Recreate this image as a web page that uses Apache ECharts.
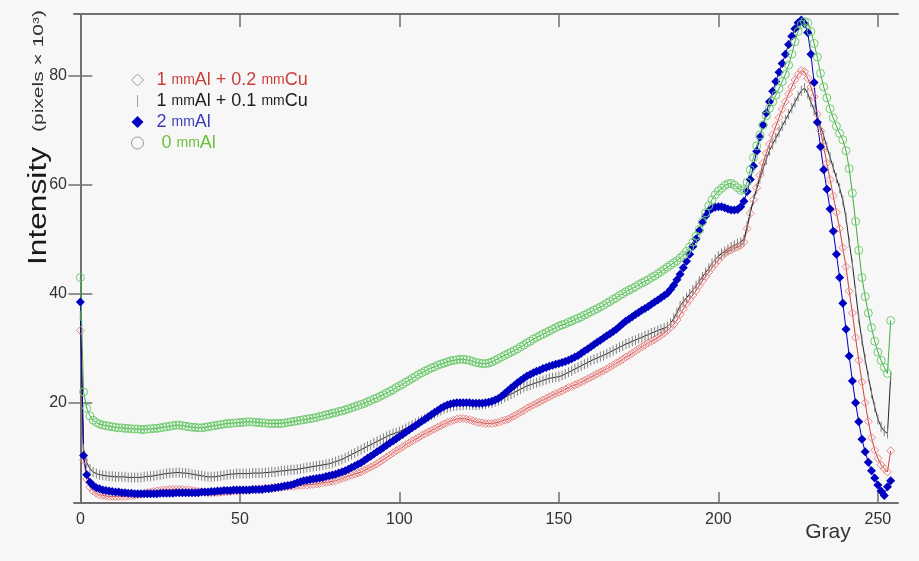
<!DOCTYPE html>
<html>
<head>
<meta charset="utf-8">
<title>Intensity vs Gray</title>
<script src="https://cdn.jsdelivr.net/npm/echarts@6/dist/echarts.min.js"></script>
<style>
  html, body { margin: 0; padding: 0; background: #f7f7f7; }
  #chart { width: 919px; height: 561px; }
</style>
</head>
<body>
<div id="chart"></div>
<script>
// gray levels 0..254
var gray = [];
for (var i = 0; i <= 254; i++) gray.push(i);

var xTicks = [0, 50, 100, 150, 200, 250];
var yTicks = [20, 40, 60, 80];

var names = ['1 mmAl + 0.2 mmCu', '1 mmAl + 0.1 mmCu', '2 mmAl', '0 mmAl'];

// 1 mmAl + 0.2 mmCu (red, hollow diamonds)
var cu02 = [
  33.3, 9.5, 6.0, 4.5, 3.8, 3.4, 3.1, 3.0, 2.9, 2.8,
  2.8, 2.8, 2.8, 2.8, 2.8, 2.9, 2.9, 3.0, 3.1, 3.2,
  3.3, 3.5, 3.6, 3.7, 3.8, 3.9, 4.0, 4.0, 4.1, 4.1,
  4.1, 4.1, 4.1, 4.0, 4.0, 3.9, 3.8, 3.7, 3.6, 3.6,
  3.5, 3.5, 3.5, 3.5, 3.6, 3.6, 3.7, 3.7, 3.8, 3.8,
  3.9, 3.9, 4.0, 4.0, 4.1, 4.1, 4.2, 4.2, 4.3, 4.3,
  4.4, 4.4, 4.5, 4.5, 4.6, 4.6, 4.7, 4.7, 4.8, 4.8,
  4.9, 4.9, 5.0, 5.0, 5.1, 5.2, 5.3, 5.4, 5.5, 5.6,
  5.7, 5.9, 6.1, 6.3, 6.5, 6.7, 6.9, 7.1, 7.3, 7.6,
  7.9, 8.2, 8.5, 8.8, 9.2, 9.6, 10.0, 10.4, 10.8, 11.2,
  11.5, 11.9, 12.3, 12.6, 13.0, 13.3, 13.6, 14.0, 14.3, 14.6,
  14.9, 15.2, 15.5, 15.8, 16.1, 16.4, 16.6, 16.8, 17.0, 17.1,
  17.1, 17.0, 16.9, 16.7, 16.5, 16.4, 16.3, 16.2, 16.2, 16.2,
  16.3, 16.4, 16.6, 16.8, 17.0, 17.3, 17.6, 17.9, 18.3, 18.6,
  19.0, 19.3, 19.6, 19.9, 20.2, 20.5, 20.8, 21.1, 21.4, 21.7,
  21.9, 22.2, 22.5, 22.8, 23.0, 23.3, 23.5, 23.8, 24.1, 24.4,
  24.7, 25.0, 25.3, 25.6, 25.9, 26.2, 26.6, 26.9, 27.3, 27.6,
  28.0, 28.4, 28.7, 29.1, 29.5, 29.9, 30.3, 30.6, 31.0, 31.3,
  31.6, 32.0, 32.4, 32.8, 33.3, 33.8, 34.4, 35.2, 36.2, 37.2,
  38.2, 39.0, 39.8, 40.6, 41.5, 42.4, 43.2, 44.0, 44.8, 45.5,
  46.2, 46.9, 47.4, 47.8, 48.1, 48.4, 48.6, 48.9, 49.5, 52.0,
  54.8, 57.3, 59.5, 61.8, 64.0, 65.8, 67.5, 69.2, 70.8, 72.4,
  73.9, 75.3, 76.7, 78.0, 79.3, 80.3, 81.0, 80.8, 79.6, 78.0,
  76.2, 73.0, 70.0, 67.0, 64.0, 61.0, 58.0, 55.0, 52.0, 48.5,
  45.0, 40.5, 36.5, 32.0, 27.8, 23.8, 20.0, 16.6, 13.6, 11.3,
  9.8, 8.6, 7.9, 7.3, 11.2
];

// 1 mmAl + 0.1 mmCu (black line, vertical tick marks)
var cu01 = [
  36.0, 11.5, 9.0, 7.9, 7.3, 7.0, 6.8, 6.7, 6.6, 6.5,
  6.5, 6.4, 6.4, 6.4, 6.4, 6.3, 6.3, 6.3, 6.3, 6.3,
  6.4, 6.5, 6.5, 6.6, 6.7, 6.8, 6.9, 7.0, 7.1, 7.1,
  7.2, 7.2, 7.1, 7.1, 7.0, 6.9, 6.8, 6.7, 6.6, 6.5,
  6.4, 6.4, 6.4, 6.5, 6.6, 6.7, 6.8, 6.9, 6.9, 7.0,
  7.0, 7.0, 7.0, 7.0, 7.1, 7.1, 7.1, 7.1, 7.2, 7.2,
  7.3, 7.3, 7.4, 7.5, 7.5, 7.6, 7.7, 7.7, 7.8, 7.9,
  8.0, 8.1, 8.2, 8.3, 8.4, 8.5, 8.6, 8.7, 8.8, 9.0,
  9.2, 9.4, 9.6, 9.9, 10.2, 10.5, 10.8, 11.1, 11.4, 11.7,
  12.0, 12.3, 12.6, 12.9, 13.2, 13.5, 13.8, 14.1, 14.3, 14.5,
  14.7, 15.0, 15.3, 15.6, 15.9, 16.2, 16.5, 16.8, 17.1, 17.4,
  17.7, 18.0, 18.3, 18.6, 18.9, 19.1, 19.3, 19.4, 19.5, 19.6,
  19.6, 19.6, 19.6, 19.6, 19.6, 19.6, 19.7, 19.8, 19.9, 20.0,
  20.2, 20.4, 20.7, 21.0, 21.3, 21.6, 21.9, 22.2, 22.5, 22.8,
  23.1, 23.3, 23.5, 23.7, 23.9, 24.1, 24.3, 24.5, 24.6, 24.7,
  24.8, 25.0, 25.3, 25.6, 25.9, 26.2, 26.5, 26.8, 27.1, 27.4,
  27.7, 28.0, 28.2, 28.5, 28.7, 29.0, 29.3, 29.6, 29.9, 30.2,
  30.5, 30.8, 31.0, 31.3, 31.5, 31.8, 32.0, 32.3, 32.5, 32.8,
  33.0, 33.3, 33.5, 33.7, 34.0, 34.6, 35.5, 36.6, 37.8, 38.6,
  39.3, 40.0, 40.7, 41.5, 42.3, 43.1, 43.9, 44.7, 45.6, 46.3,
  46.9, 47.4, 47.8, 48.2, 48.6, 48.9, 49.2, 49.5, 50.0, 52.4,
  55.0, 57.3, 59.3, 61.2, 63.0, 64.7, 66.3, 67.5, 68.6, 69.7,
  70.8, 71.9, 73.0, 74.1, 75.2, 76.3, 77.3, 77.8, 76.8, 75.2,
  73.8, 72.4, 70.8, 69.0, 67.0, 65.1, 63.2, 61.3, 59.4, 57.2,
  54.0, 49.5, 45.5, 40.5, 35.5, 31.5, 28.0, 24.8, 21.8, 19.2,
  17.0, 15.6, 14.8, 14.4, 24.8
];

// 2 mmAl (blue, filled diamonds)
var al2 = [
  38.5, 10.3, 6.8, 5.4, 4.8, 4.4, 4.2, 4.0, 3.9, 3.8,
  3.7, 3.6, 3.6, 3.5, 3.5, 3.4, 3.4, 3.3, 3.3, 3.3,
  3.3, 3.3, 3.3, 3.3, 3.3, 3.4, 3.4, 3.4, 3.4, 3.4,
  3.5, 3.5, 3.5, 3.5, 3.5, 3.5, 3.5, 3.5, 3.6, 3.6,
  3.6, 3.7, 3.7, 3.8, 3.8, 3.9, 3.9, 3.9, 4.0, 4.0,
  4.0, 4.0, 4.0, 4.0, 4.1, 4.1, 4.1, 4.1, 4.2, 4.2,
  4.3, 4.4, 4.5, 4.6, 4.7, 4.8, 4.9, 5.1, 5.3, 5.5,
  5.7, 5.8, 5.9, 6.0, 6.1, 6.2, 6.3, 6.45, 6.6, 6.75,
  6.9, 7.1, 7.3, 7.5, 7.8, 8.1, 8.4, 8.7, 9.0, 9.4,
  9.8, 10.2, 10.6, 11.0, 11.4, 11.8, 12.2, 12.6, 13.0, 13.4,
  13.8, 14.2, 14.6, 15.0, 15.4, 15.8, 16.2, 16.6, 17.0, 17.4,
  17.8, 18.2, 18.6, 19.0, 19.3, 19.6, 19.8, 19.9, 20.0, 20.0,
  20.0, 20.0, 20.0, 19.9, 19.9, 19.9, 19.9, 20.0, 20.1, 20.3,
  20.5, 20.8, 21.2, 21.7, 22.2, 22.7, 23.2, 23.7, 24.1, 24.5,
  24.9, 25.2, 25.5, 25.8, 26.0, 26.3, 26.5, 26.7, 26.9, 27.1,
  27.2, 27.4, 27.6, 27.8, 28.1, 28.4, 28.7, 29.1, 29.5, 29.9,
  30.3, 30.7, 31.1, 31.5, 31.9, 32.3, 32.7, 33.1, 33.5, 34.0,
  34.5, 35.0, 35.4, 35.8, 36.2, 36.6, 37.0, 37.3, 37.7, 38.1,
  38.5, 38.9, 39.3, 39.7, 40.1, 40.8, 41.6, 42.6, 43.6, 44.8,
  46.0, 47.3, 48.7, 50.1, 51.6, 53.1, 54.3, 55.2, 55.7, 55.9,
  56.0, 56.0, 55.8, 55.6, 55.4, 55.4, 55.5, 56.0, 57.0, 58.8,
  61.0, 63.5, 66.2, 68.8, 71.0, 73.2, 75.3, 77.2, 79.0, 80.7,
  82.3, 84.0, 85.8, 87.3, 88.7, 89.8, 90.3, 89.6, 88.0, 84.0,
  78.8, 71.5, 67.0, 62.8, 59.2, 55.6, 51.5, 47.3, 43.0, 38.3,
  33.5, 28.6, 24.0, 20.0, 16.5, 13.3, 11.0, 9.1, 7.5, 6.2,
  4.9, 3.8, 3.0, 4.6, 5.7
];

// 0 mmAl (green, hollow circles)
var al0 = [
  43.0, 22.0, 19.0, 17.6, 16.8, 16.4, 16.1, 15.9, 15.8, 15.7,
  15.6, 15.5, 15.4, 15.4, 15.3, 15.3, 15.2, 15.2, 15.2, 15.1,
  15.1, 15.2, 15.2, 15.3, 15.3, 15.4, 15.5, 15.6, 15.7, 15.8,
  15.9, 15.9, 15.8, 15.7, 15.6, 15.5, 15.5, 15.4, 15.4, 15.5,
  15.6, 15.7, 15.8, 15.9, 16.0, 16.1, 16.2, 16.2, 16.3, 16.3,
  16.4, 16.4, 16.5, 16.5, 16.5, 16.4, 16.4, 16.3, 16.3, 16.2,
  16.2, 16.2, 16.2, 16.2, 16.3, 16.4, 16.5, 16.6, 16.7, 16.8,
  16.9, 17.0, 17.1, 17.2, 17.3, 17.5, 17.6, 17.8, 17.9, 18.1,
  18.2, 18.4, 18.5, 18.7, 18.9, 19.1, 19.3, 19.5, 19.7, 19.9,
  20.2, 20.4, 20.7, 20.9, 21.2, 21.5, 21.8, 22.1, 22.4, 22.8,
  23.1, 23.4, 23.8, 24.1, 24.5, 24.8, 25.2, 25.5, 25.8, 26.1,
  26.4, 26.6, 26.9, 27.1, 27.3, 27.5, 27.7, 27.8, 27.9, 28.0,
  28.0, 27.9, 27.8, 27.6, 27.4, 27.3, 27.2, 27.2, 27.3, 27.5,
  27.8, 28.1, 28.4, 28.7, 29.0, 29.3, 29.6, 29.9, 30.3, 30.6,
  31.0, 31.3, 31.7, 32.0, 32.3, 32.6, 32.9, 33.2, 33.5, 33.8,
  34.1, 34.3, 34.5, 34.8, 35.0, 35.3, 35.5, 35.8, 36.1, 36.4,
  36.7, 37.0, 37.3, 37.6, 37.9, 38.3, 38.6, 39.0, 39.3, 39.7,
  40.0, 40.4, 40.7, 41.0, 41.3, 41.7, 42.0, 42.3, 42.6, 43.0,
  43.3, 43.7, 44.1, 44.5, 44.9, 45.3, 45.7, 46.1, 46.6, 47.1,
  47.8, 48.6, 49.5, 50.6, 51.8, 53.3, 54.9, 56.2, 57.3, 58.2,
  58.9, 59.4, 59.9, 60.2, 60.3, 60.0, 59.5, 59.0, 59.2, 60.5,
  62.8, 65.0, 67.2, 69.2, 71.0, 72.7, 74.1, 75.3, 76.5, 77.7,
  79.0, 80.3, 82.0, 84.0, 86.3, 88.2, 89.5, 90.0, 89.8, 88.2,
  86.0, 83.5, 80.5, 78.0, 76.0, 74.0, 72.3, 70.8, 69.5, 68.3,
  66.3, 63.0, 58.5, 53.3, 48.0, 43.0, 39.5, 36.5, 33.8, 31.3,
  29.3, 27.8, 26.5, 25.4, 35.1
];

function pairs(vals) {
  return gray.map(function (g, i) { return [g, vals[i]]; });
}

var FONT = '"Liberation Sans", Arial, Helvetica, sans-serif';
var diamondIcon = 'path://M5,0L10,5L5,10L0,5Z';
var circleIcon = 'path://M10,5A5,5,0,1,1,0,5A5,5,0,1,1,10,5Z';
var barIcon = 'path://M0,0L1,0L1,12L0,12Z';

var chart = echarts.init(document.getElementById('chart'));

var axisLine = { show: true, lineStyle: { color: '#707070', width: 2 } };
var tickStyle = { color: '#707070', width: 1.5 };

var option = {
  backgroundColor: '#f7f7f7',
  animation: false,
  grid: { left: 74, top: 14, right: 21, bottom: 58 },
  legend: {
    orient: 'vertical',
    left: 126,
    top: 66,
    itemWidth: 28,
    itemHeight: 12,
    itemGap: 3,
    selectedMode: false,
    formatter: function (name) {
      var s = name.replace(/mm/g, '{m|mm}');
      return name === '0 mmAl' ? ' ' + s : s;
    },
    textStyle: {
      fontSize: 18,
      lineHeight: 18,
      fontFamily: FONT,
      rich: { m: { fontSize: 14, fontFamily: FONT } }
    },
    data: [
      { name: names[0], icon: diamondIcon,
        itemStyle: { color: 'transparent', borderColor: '#9a9a9a', borderWidth: 1 },
        textStyle: { color: '#c8403c' } },
      { name: names[1], icon: barIcon,
        itemStyle: { color: '#a0a0a0', borderWidth: 0 },
        textStyle: { color: '#1e1e1e' } },
      { name: names[2], icon: diamondIcon,
        itemStyle: { color: '#0000c0', borderWidth: 0 },
        textStyle: { color: '#3c3cc0' } },
      { name: names[3], icon: circleIcon,
        itemStyle: { color: 'transparent', borderColor: '#9a9a9a', borderWidth: 1 },
        textStyle: { color: '#6cbf3a' } }
    ]
  },
  xAxis: [
    {
      type: 'value', position: 'bottom', min: -2, max: 256.3,
      axisLine: axisLine,
      axisTick: { inside: true, length: 11, customValues: xTicks, lineStyle: tickStyle },
      axisLabel: { customValues: xTicks, fontSize: 16, color: '#333', margin: 9, fontFamily: FONT },
      splitLine: { show: false }
    },
    {
      type: 'value', position: 'top', min: -2, max: 256.3,
      axisLine: axisLine,
      axisTick: { inside: true, length: 13, customValues: xTicks, lineStyle: tickStyle },
      axisLabel: { show: false },
      splitLine: { show: false }
    }
  ],
  yAxis: [
    {
      type: 'value', position: 'left', min: 1.6, max: 91.4,
      axisLine: axisLine,
      axisTick: { inside: true, length: 12, customValues: yTicks, lineStyle: tickStyle },
      axisLabel: { customValues: yTicks, fontSize: 16, color: '#333', margin: 7, fontFamily: FONT },
      splitLine: { show: false }
    },
    {
      type: 'value', position: 'right', min: 1.6, max: 91.4,
      axisLine: axisLine,
      axisTick: { inside: true, length: 12, customValues: yTicks, lineStyle: tickStyle },
      axisLabel: { show: false },
      splitLine: { show: false }
    }
  ],
  graphic: [
    {
      type: 'text', x: 39, y: 206, rotation: Math.PI / 2, scaleX: 1.22,
      style: { text: 'Intensity', font: '26px "Liberation Sans", Arial, sans-serif', fill: '#1a1a1a',
               align: 'center', verticalAlign: 'middle' }
    },
    {
      type: 'text', x: 39, y: 71, rotation: Math.PI / 2, scaleX: 1.4,
      style: { text: '(pixels \u00d7 10\u00b3)', font: '15px "Liberation Sans", Arial, sans-serif', fill: '#333',
               align: 'center', verticalAlign: 'middle' }
    },
    {
      type: 'text', x: 828, y: 532,
      style: { text: 'Gray', font: '21px "Liberation Sans", Arial, sans-serif', fill: '#333',
               align: 'center', verticalAlign: 'middle' }
    }
  ],
  series: [
    {
      name: names[0], type: 'line', data: pairs(cu02),
      symbol: 'diamond', symbolSize: 8, showAllSymbol: true,
      lineStyle: { color: '#d2413c', width: 1 },
      itemStyle: { color: 'transparent', borderColor: '#e88a88', borderWidth: 1 },
      emphasis: { disabled: true }
    },
    {
      name: names[1], type: 'line', data: pairs(cu01),
      symbol: 'rect', symbolSize: [1, 10], showAllSymbol: true,
      lineStyle: { color: '#222', width: 1 },
      itemStyle: { color: '#808080' },
      emphasis: { disabled: true }
    },
    {
      name: names[2], type: 'line', data: pairs(al2),
      symbol: 'diamond', symbolSize: 9, showAllSymbol: true,
      lineStyle: { color: '#0000c0', width: 1 },
      itemStyle: { color: '#0000c0' },
      emphasis: { disabled: true }
    },
    {
      name: names[3], type: 'line', data: pairs(al0),
      symbol: 'circle', symbolSize: 8, showAllSymbol: true,
      lineStyle: { color: '#3fae3f', width: 1 },
      itemStyle: { color: 'transparent', borderColor: '#72cc72', borderWidth: 1 },
      emphasis: { disabled: true }
    }
  ]
};

chart.setOption(option);
</script>
</body>
</html>
